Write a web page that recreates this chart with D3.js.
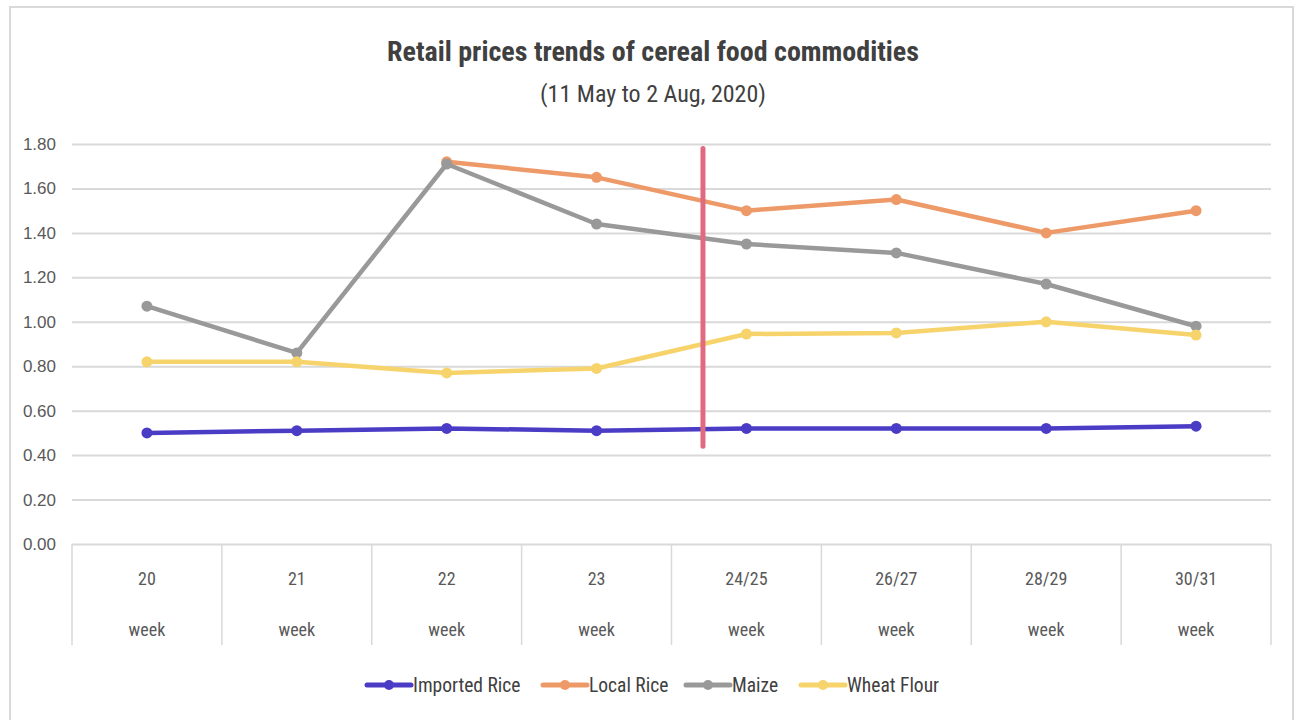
<!DOCTYPE html>
<html><head><meta charset="utf-8">
<script src="https://cdn.jsdelivr.net/npm/d3@7"></script>
<style>
html,body{margin:0;padding:0;background:#fff;}
svg{display:block;font-family:"Liberation Sans Narrow","Roboto Condensed","Liberation Sans",sans-serif;}
</style></head>
<body><svg id="c" width="1310" height="720"></svg>
<script>
const categories = ["20","21","22","23","24/25","26/27","28/29","30/31"];
const categorySub = "week";
const seriesNames = ["Imported Rice","Local Rice","Maize","Wheat Flour"];
const seriesColors = ["#4b3cc6","#ee9968","#999999","#f7d36b"];
const importedRice = [0.50,0.51,0.52,0.51,0.52,0.52,0.52,0.53];
const localRice   = [null,null,1.72,1.65,1.50,1.55,1.40,1.50];
const maize       = [1.07,0.86,1.71,1.44,1.35,1.31,1.17,0.98];
const wheatFlour  = [0.82,0.82,0.77,0.79,0.945,0.95,1.00,0.94];
const yTicks = [0,0.2,0.4,0.6,0.8,1.0,1.2,1.4,1.6,1.8];
const titleText = "Retail prices trends of cereal food commodities";
const subtitleText = "(11 May to 2 Aug, 2020)";
// vertical marker: position in band units from the left edge, value span
const markerBand = 4.21;
const markerRange = [0.44, 1.78];

const series = [importedRice, localRice, maize, wheatFlour];
const svg = d3.select("#c");
const L = 72, R = 1271, T = 144, B = 544;

// outer border
svg.append("rect").attr("x",10).attr("y",7).attr("width",1283).attr("height",730)
  .attr("fill","none").attr("stroke","#d9d9d9").attr("stroke-width",2);

const x = d3.scaleBand().domain(categories).range([L,R]);
const y = d3.scaleLinear().domain([0,1.8]).range([B,T]);

// title
svg.append("text").attr("x",653).attr("y",61).attr("text-anchor","middle")
  .attr("font-size",28).attr("font-weight","bold").attr("fill","#404040").text(titleText);
svg.append("text").attr("x",653).attr("y",102).attr("text-anchor","middle")
  .attr("font-size",24).attr("fill","#404040").text(subtitleText);

// gridlines
const yAxis = d3.axisLeft(y).tickValues(yTicks).tickFormat(d3.format(".2f")).tickSize(-(R-L)).tickPadding(16);
const gy = svg.append("g").attr("transform",`translate(${L},0)`).call(yAxis);
gy.select(".domain").remove();
gy.selectAll(".tick line").attr("stroke","#d9d9d9").attr("stroke-width",2);
gy.selectAll(".tick text").attr("font-size",17).attr("fill","#595959");

// category axis with separators
const gx = svg.append("g");
const bounds = categories.map(c => x(c)).concat([R]);
gx.selectAll("line.sep").data(bounds).join("line")
  .attr("x1",d=>d).attr("x2",d=>d).attr("y1",B).attr("y2",645)
  .attr("stroke","#d9d9d9").attr("stroke-width",1.5);
gx.selectAll("text.cat").data(categories).join("text")
  .attr("x",d=>x(d)+x.bandwidth()/2).attr("y",585).attr("text-anchor","middle")
  .attr("font-size",18).attr("fill","#595959").text(d=>d);
gx.selectAll("text.sub").data(categories).join("text")
  .attr("x",d=>x(d)+x.bandwidth()/2).attr("y",636).attr("text-anchor","middle")
  .attr("font-size",18).attr("fill","#595959").text(categorySub);

// lines
const line = d3.line().defined(d=>d.v!==null).x(d=>x(d.c)+x.bandwidth()/2).y(d=>y(d.v));
series.forEach((s,i)=>{
  const pts = s.map((v,j)=>({c:categories[j],v}));
  const g = svg.append("g");
  g.append("path").datum(pts).attr("d",line).attr("fill","none")
    .attr("stroke",seriesColors[i]).attr("stroke-width",4.5).attr("stroke-linejoin","round");
  g.selectAll("circle").data(pts.filter(d=>d.v!==null)).join("circle")
    .attr("cx",d=>x(d.c)+x.bandwidth()/2).attr("cy",d=>y(d.v)).attr("r",5.5)
    .attr("fill",seriesColors[i]);
});

// vertical marker
const mx = L + markerBand * x.bandwidth();
svg.append("line").attr("x1",mx).attr("x2",mx).attr("y1",y(markerRange[1])).attr("y2",y(markerRange[0]))
  .attr("stroke","#e06b80").attr("stroke-width",5).attr("stroke-linecap","round");

// legend
const legendX = [367, 543, 686, 801];
const lg = svg.append("g");
seriesNames.forEach((n,i)=>{
  const g = lg.append("g").attr("transform",`translate(${legendX[i]},685)`);
  g.append("line").attr("x1",0).attr("x2",44).attr("y1",0).attr("y2",0)
    .attr("stroke",seriesColors[i]).attr("stroke-width",5).attr("stroke-linecap","round");
  g.append("circle").attr("cx",22).attr("cy",0).attr("r",5).attr("fill",seriesColors[i]);
  g.append("text").attr("x",46).attr("y",7).attr("font-size",19.5).attr("fill","#404040").text(n);
});
</script></body></html>
